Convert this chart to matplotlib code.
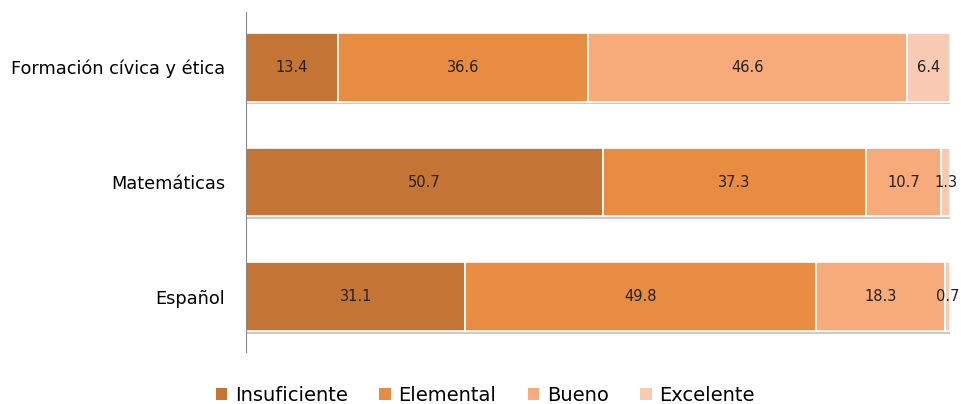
import matplotlib.pyplot as plt
import matplotlib.patheffects as pe
from matplotlib.patches import Patch
import numpy as np

materias = ['Español', 'Matemáticas', 'Formación cívica y ética']
niveles = ['Insuficiente', 'Elemental', 'Bueno', 'Excelente']
insuficiente = [31.1, 50.7, 13.4]
elemental = [49.8, 37.3, 36.6]
bueno = [18.3, 10.7, 46.6]
excelente = [0.7, 1.3, 6.4]
colores = ['#C47535', '#E88C41', '#F7AA7A', '#F8CAB4']

plt.rcParams['font.family'] = ['DejaVu Sans']

series = np.array([insuficiente, elemental, bueno, excelente])
totales = series.sum(axis=0)
pct = series / totales * 100

fig = plt.figure(figsize=(9.61, 4.04), dpi=100)
ax = fig.add_axes([0.256, 0.129, 0.733, 0.841])

y = np.arange(len(materias))
left = np.zeros(len(materias))
sombra = [pe.SimplePatchShadow(offset=(1, -2), shadow_rgbFace='#999999', alpha=0.5), pe.Normal()]
for i, nivel in enumerate(niveles):
	bars = ax.barh(y, pct[i], left=left, height=0.6, color=colores[i],
		edgecolor='white', linewidth=1.2)
	for b in bars:
		b.set_path_effects(sombra)
	for j in range(len(materias)):
		cx = left[j] + pct[i][j] / 2
		ax.text(cx, y[j], '%.1f' % series[i][j], ha='center', va='center',
			fontsize=10.5, color='#222222')
	left += pct[i]

ax.set_xlim(0, 100)
ax.set_ylim(-0.48, 2.48)
ax.set_yticks(y)
ax.set_yticklabels(materias, fontsize=12.8)
ax.tick_params(axis='y', length=0, pad=15)
ax.set_xticks([])
for s in ['top', 'right', 'bottom']:
	ax.spines[s].set_visible(False)
ax.spines['left'].set_color('#888888')

handles = [Patch(facecolor=c, edgecolor='none', label=n) for c, n in zip(colores, niveles)]
fig.legend(handles=handles, loc='lower center', bbox_to_anchor=(0.505, -0.045), ncol=4, frameon=False,
	fontsize=14, handlelength=0.6, handleheight=0.6, handletextpad=0.4, columnspacing=1.6)

plt.savefig('out.png')
plt.close()
